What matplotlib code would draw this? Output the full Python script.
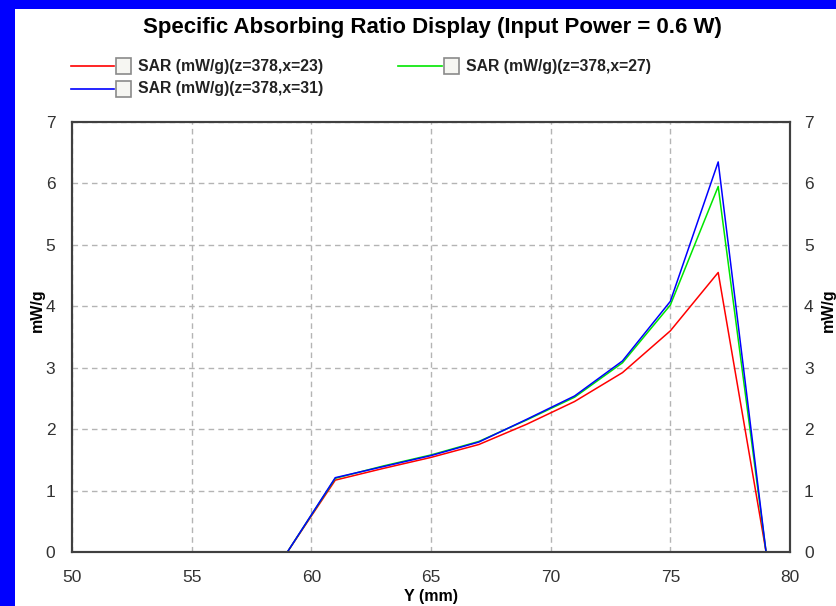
import numpy as np
import matplotlib
matplotlib.use("Agg")
import matplotlib.pyplot as plt
from matplotlib.lines import Line2D
from matplotlib.patches import Rectangle

plt.rcParams["font.family"] = ["Liberation Sans", "DejaVu Sans"]

# sample positions (mm) and SAR values (mW/g)
y_mm = [50, 51, 53, 55, 57, 59, 61, 63, 65, 67, 69, 71, 73, 75, 77, 79, 80]
sar_x23 = [0, 0, 0, 0, 0, 0, 1.17, 1.36, 1.54, 1.75, 2.08, 2.45, 2.92, 3.60, 4.55, 0, 0]
sar_x27 = [0, 0, 0, 0, 0, 0, 1.20, 1.40, 1.58, 1.80, 2.15, 2.52, 3.08, 4.02, 5.95, 0, 0]
sar_x31 = [0, 0, 0, 0, 0, 0, 1.21, 1.39, 1.57, 1.79, 2.16, 2.54, 3.11, 4.08, 6.35, 0, 0]

labels = ["SAR (mW/g)(z=378,x=23)", "SAR (mW/g)(z=378,x=27)", "SAR (mW/g)(z=378,x=31)"]
colors = ["#ff0000", "#00e600", "#0000ff"]
series = [sar_x23, sar_x27, sar_x31]

W, H = 837, 606
fig = plt.figure(figsize=(W / 100, H / 100), dpi=100, facecolor="#0000ff")
# white panel inside blue border
fig.patches.append(Rectangle((15 / W, 0), 1, 1 - 9 / H, transform=fig.transFigure,
                             facecolor="white", edgecolor="none", zorder=-10))

ax = fig.add_axes([72 / W, 1 - 552 / H, (790 - 72) / W, (552 - 122) / H])
ax.set_facecolor("white")
for vals, c in zip(series, colors):
    ax.plot(y_mm, vals, color=c, lw=1.1)

ax.set_xlim(50, 80)
ax.set_ylim(0, 7)
ax.set_xticks(np.arange(50, 81, 5))
ax.set_yticks(np.arange(0, 8, 1))
ax.grid(True, color="#b4b4b4", ls=(0, (4, 3)), lw=1)
ax.tick_params(length=0, labelsize=12.5, colors="#333333", pad=12)
ax.tick_params(axis="x", pad=13)
for s in ax.spines.values():
    s.set_color("#404040")
    s.set_linewidth(1.5)

ax2 = ax.twinx()
ax2.set_ylim(0, 7)
ax2.set_yticks(np.arange(0, 8, 1))
ax2.tick_params(length=0, labelsize=12.5, colors="#333333", pad=10)
for s in ax2.spines.values():
    s.set_color("#404040")
    s.set_linewidth(1.5)

ax.set_xlabel("Y (mm)", fontsize=11.5, fontweight="bold", labelpad=3)
fig.text(37 / W, 1 - 310 / H, "mW/g", rotation=90, ha="center", va="center",
         fontsize=11.5, fontweight="bold")
fig.text(828 / W, 1 - 310 / H, "mW/g", rotation=90, ha="center", va="center",
         fontsize=11.5, fontweight="bold")

fig.text(432 / W, 1 - 27 / H, "Specific Absorbing Ratio Display (Input Power = 0.6 W)",
         ha="center", va="center", fontsize=16, fontweight="bold")

# legend with check boxes: (line start, line end, text start, row y)
entries = [(71, 114, 138, 66), (398, 442, 466, 66), (71, 114, 138, 89)]
for (l0, l1, tx, ly), lab, c in zip(entries, labels, colors):
    fig.add_artist(Line2D([l0 / W, l1 / W], [1 - ly / H, 1 - ly / H],
                          transform=fig.transFigure, color=c, lw=1.2))
    fig.add_artist(Rectangle(((l1 + 2) / W, 1 - (ly + 8) / H), 15 / W, 16 / H,
                             transform=fig.transFigure, facecolor="#f6f6f2",
                             edgecolor="#8a8a8a", lw=1.2))
    fig.text(tx / W, 1 - ly / H, lab, ha="left", va="center", fontsize=11.3,
             fontweight="bold", color="#222222")

fig.savefig("out.png", dpi=100, facecolor=fig.get_facecolor())
